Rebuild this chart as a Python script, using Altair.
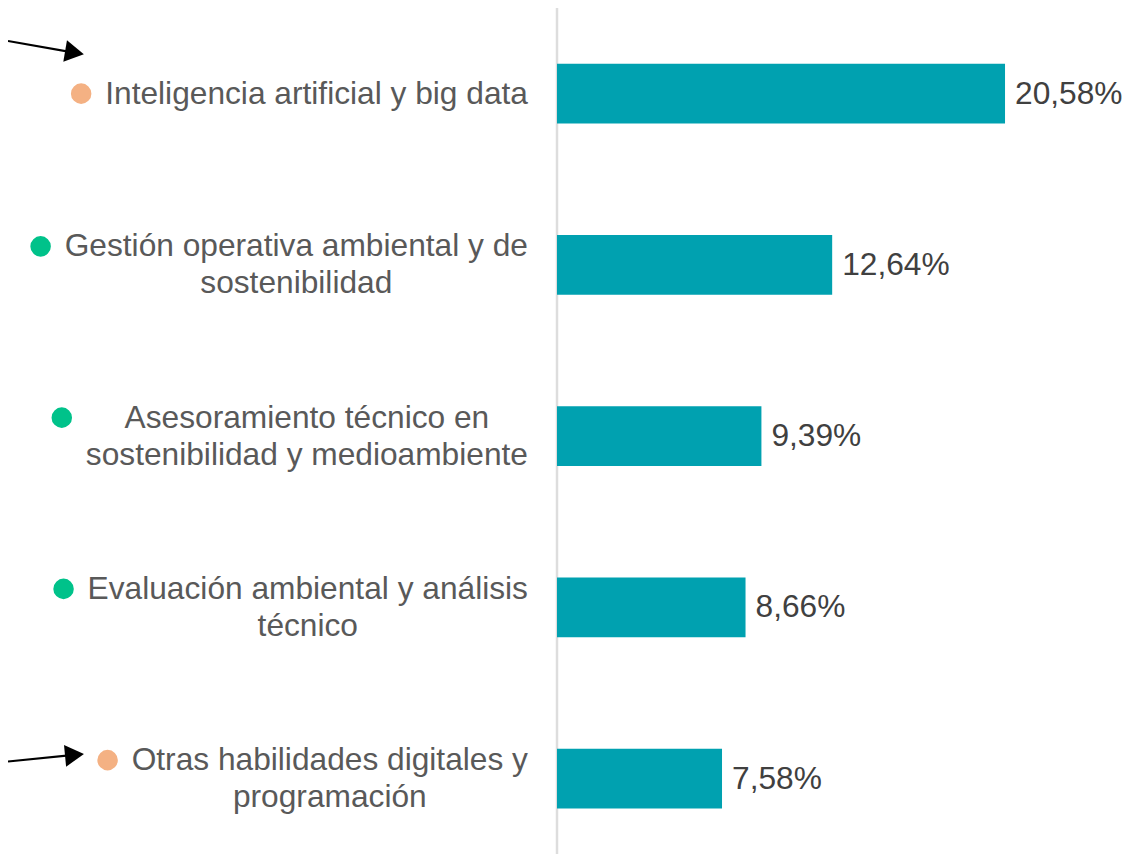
import altair as alt
import pandas as pd

# ---- data ----
categories = [
    "Inteligencia artificial y big data",
    "Gestión operativa ambiental y de\nsostenibilidad",
    "Asesoramiento técnico en\nsostenibilidad y medioambiente",
    "Evaluación ambiental y análisis\ntécnico",
    "Otras habilidades digitales y\nprogramación",
]
values = [20.58, 12.64, 9.39, 8.66, 7.58]
groups = ["digital", "verde", "verde", "verde", "digital"]

# ---- layout / style ----
PAD = 3
W, H = 1124 - 2 * PAD, 846 - 2 * PAD
FONT = "Liberation Sans"
FS = 31.7
LH = 37
LABEL_RIGHT = 520 - PAD
X0 = 549 - PAD
PX_PER_UNIT = 21.77
BAR_COLOR = "#00A1B0"
DOT_COLORS = ["#F4B183", "#00C28A"]

# Arial/Liberation Sans advance widths (per 1000 em)
AW = {' ': 278, 'a': 556, 'b': 556, 'c': 500, 'd': 556, 'e': 556, 'f': 278, 'g': 556,
      'h': 556, 'i': 222, 'j': 222, 'k': 500, 'l': 222, 'm': 833, 'n': 556, 'o': 556,
      'p': 556, 'q': 556, 'r': 333, 's': 500, 't': 278, 'u': 556, 'v': 500, 'w': 722,
      'x': 500, 'y': 500, 'z': 500, 'á': 556, 'é': 556, 'í': 278, 'ó': 556, 'ú': 556,
      'A': 667, 'E': 667, 'G': 778, 'I': 278, 'O': 778}


def text_w(s):
    return sum(AW.get(c, 556) for c in s) * FS / 1000.0


rows = []
for c, v, g in zip(categories, values, groups):
    lines = c.split("\n")
    maxw = max(text_w(l) for l in lines)
    rows.append({
        "cat": c,
        "val": v,
        "grp": g,
        "lbl": f"{v:.2f}".replace(".", ",") + "%",
        "nlines": len(lines),
        "cx": LABEL_RIGHT - maxw / 2.0,
        "dotx": LABEL_RIGHT - maxw - 24,
    })
df = pd.DataFrame(rows)

XMAX = 25
xscale = alt.Scale(domain=[0, XMAX], range=[X0, X0 + XMAX * PX_PER_UNIT])
yscale = alt.Scale(domain=categories, range=[-PAD, 856.25 - PAD], paddingInner=0.65, paddingOuter=0.325)

base = alt.Chart(df)
y_enc = alt.Y("cat:N", scale=yscale, axis=None, sort=categories)

axis_line = alt.Chart(pd.DataFrame({"z": [0]})).mark_rule(color="#DDDDDD", strokeWidth=2.5).encode(
    x=alt.X("z:Q", scale=xscale, axis=None),
    y=alt.value(-PAD),
    y2=alt.value(H + PAD),
)

bars = base.mark_bar(color=BAR_COLOR).encode(
    x=alt.X("val:Q", scale=xscale, axis=None),
    y=y_enc,
)

vals = base.mark_text(align="left", baseline="middle", dx=10, font=FONT, fontSize=FS,
                      color="#404040").encode(
    x=alt.X("val:Q", scale=xscale, axis=None),
    y=y_enc,
    text="lbl:N",
)

labels1 = base.transform_filter("datum.nlines == 1").mark_text(
    align="center", baseline="middle", lineBreak="\n", lineHeight=LH,
    font=FONT, fontSize=FS, color="#595959").encode(
    x=alt.X("cx:Q", scale=None, axis=None),
    y=y_enc,
    text="cat:N",
)
labels2 = base.transform_filter("datum.nlines > 1").mark_text(
    align="center", baseline="middle", lineBreak="\n", lineHeight=LH, dy=-LH / 2,
    font=FONT, fontSize=FS, color="#595959").encode(
    x=alt.X("cx:Q", scale=None, axis=None),
    y=y_enc,
    text="cat:N",
)

dot_color = alt.Color("grp:N", scale=alt.Scale(domain=["digital", "verde"], range=DOT_COLORS), legend=None)

dots1 = base.transform_filter("datum.nlines == 1").mark_point(
    shape="circle", filled=True, opacity=1, size=420).encode(
    x=alt.X("dotx:Q", scale=None, axis=None), y=y_enc, color=dot_color)

dots2 = base.transform_filter("datum.nlines > 1").mark_point(
    shape="circle", filled=True, opacity=1, size=420, yOffset=-LH / 2).encode(
    x=alt.X("dotx:Q", scale=None, axis=None), y=y_enc, color=dot_color)

# annotation arrows
shaft1 = alt.Chart(pd.DataFrame({"k": [0]})).mark_rule(color="black", strokeWidth=2.2).encode(
    x=alt.value(-PAD), y=alt.value(33.0 - PAD), x2=alt.value(66 - PAD), y2=alt.value(44.6 - PAD))
head1 = alt.Chart(pd.DataFrame({"k": [0]})).mark_point(
    shape="triangle-right", filled=True, opacity=1, color="black", size=480, angle=9.6).encode(
    x=alt.value(66.5 - PAD), y=alt.value(44.6 - PAD))
shaft2 = alt.Chart(pd.DataFrame({"k": [0]})).mark_rule(color="black", strokeWidth=2.2).encode(
    x=alt.value(-PAD), y=alt.value(753.5 - PAD), x2=alt.value(66 - PAD), y2=alt.value(746.9 - PAD))
head2 = alt.Chart(pd.DataFrame({"k": [0]})).mark_point(
    shape="triangle-right", filled=True, opacity=1, color="black", size=480, angle=354.5).encode(
    x=alt.value(66.5 - PAD), y=alt.value(746.9 - PAD))

chart = alt.layer(
    axis_line, bars, vals, labels1, labels2, dots1, dots2, shaft1, head1, shaft2, head2
).properties(
    width=W, height=H, autosize=alt.AutoSizeParams(type="none"), padding=PAD,
).configure_view(strokeWidth=0).configure_axis(
    domain=False, grid=False, ticks=False, labels=False
)

chart.save("out.html", embed_options={"renderer": "svg", "actions": False})
